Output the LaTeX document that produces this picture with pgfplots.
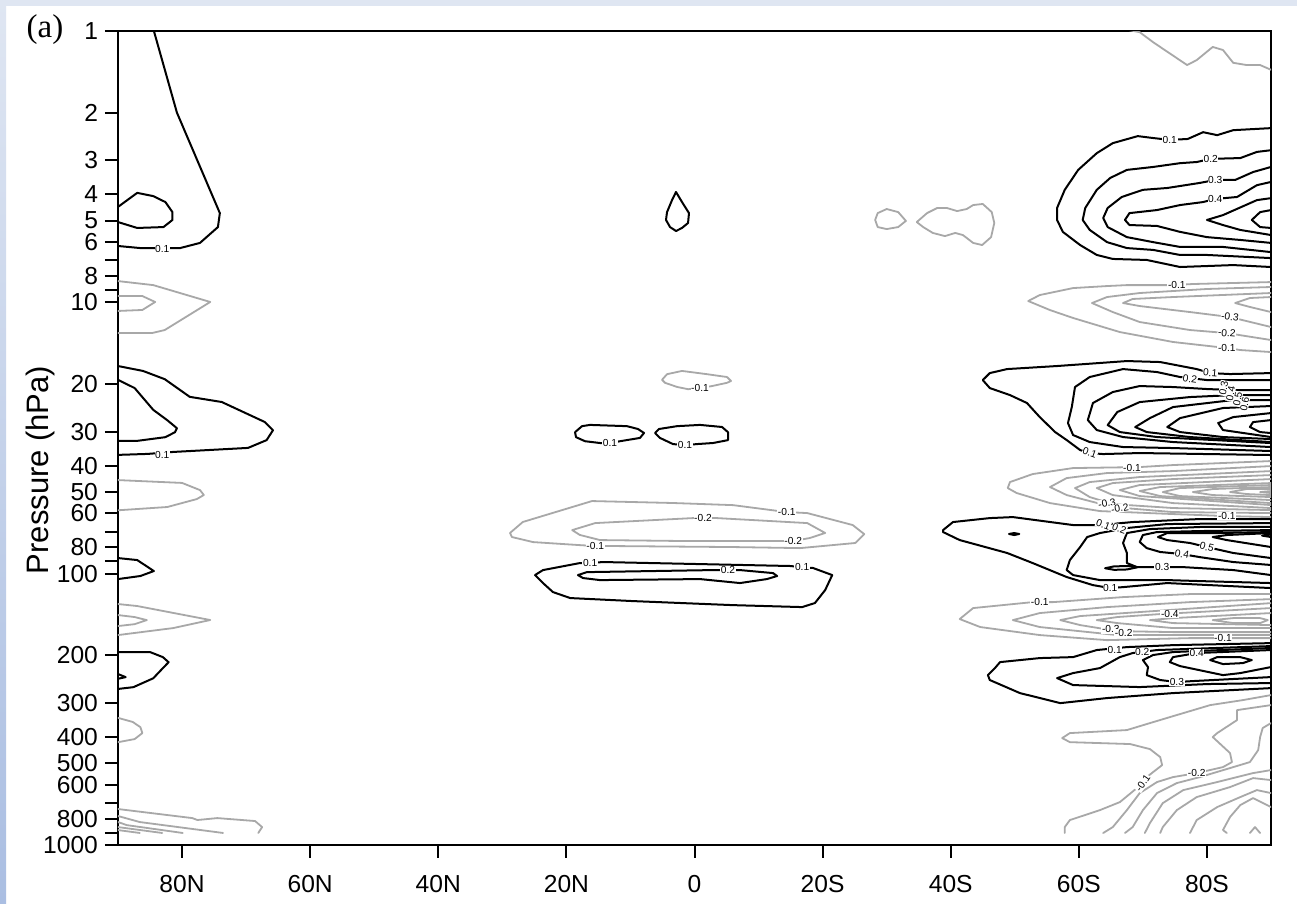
\documentclass[border=0pt]{standalone}
\usepackage{fontspec}
\setmainfont{Liberation Sans}
\newfontfamily\timesf{Liberation Serif}
\usepackage{pgfplots}
\pgfplotsset{compat=1.18}
\definecolor{cgray}{RGB}{168,168,168}
\definecolor{bgtop}{RGB}{223,230,242}
\definecolor{bgbot}{RGB}{170,190,226}
\pgfplotsset{
 blk/.style={black, line width=1pt, line join=round, line cap=round},
 gry/.style={cgray, line width=0.9pt, line join=round, line cap=round},
}
\tikzset{clab/.style={font=\fontsize{5.1}{6}\selectfont, fill=white, inner sep=0.3pt}}
\newcommand{\B}[1]{\addplot[blk] coordinates {#1};}
\newcommand{\G}[1]{\addplot[gry] coordinates {#1};}
\newcommand{\CL}[4][0]{\node[clab, rotate=#1] at (axis cs:#2,#3) {#4};}
\begin{document}
\begin{tikzpicture}[x=1pt,y=1pt]
\useasboundingbox (0,0) rectangle (648.5,452);
\fill[white] (0,0) rectangle (648.5,452);
\fill[bgtop] (0,449) rectangle (648.5,452);
\shade[top color=bgtop, bottom color=bgbot] (0,0) rectangle (3,452);
\node[font=\timesf\fontsize{16.5}{19}\selectfont] at (22.5,437) {(a)};
\begin{axis}[
 at={(59pt,29.5pt)}, anchor=south west,
 scale only axis, width=576.5pt, height=407pt,
 xmin=-90, xmax=90, ymin=1, ymax=1000, ymode=log, y dir=reverse,
 axis line style={line width=1pt},
 tick style={line width=1pt, black},
 major tick length=6.5pt, tick align=outside, tick pos=left,
 xtick={-80,-60,-40,-20,0,20,40,60,80},
 xticklabels={80N,60N,40N,20N,0,20S,40S,60S,80S},
 ytick={1,2,3,4,5,6,7,8,9,10,20,30,40,50,60,70,80,90,100,200,300,400,500,600,700,800,900,1000},
 yticklabels={1,2,3,4,5,6,,8,,10,20,30,40,50,60,,80,,100,200,300,400,500,600,,800,,1000},
 minor tick num=0, yminorticks=false, xminorticks=false,
 ticklabel style={font=\fontsize{12.3}{14}\selectfont},
 xticklabel style={yshift=-5pt},
 ylabel={Pressure (hPa)},
 ylabel style={at={(axis description cs:-0.0668,0.4607)}, anchor=center, font=\fontsize{15.5}{18}\selectfont},
]
% ---------------- left side ----------------
\B{(-84.5,0.98) (-80.8,2.0) (-74.1,4.69) (-74.4,5.28) (-77.2,6.04) (-80.3,6.31) (-86.5,6.31) (-90,6.2)}
\B{(-90,4.45) (-87.0,3.95) (-84.5,4.06) (-82.6,4.27) (-81.5,4.65) (-81.5,4.97) (-82.9,5.28) (-87.0,5.32) (-90,5.06)}
\G{(-90,8.35) (-84.5,8.64) (-75.6,9.97) (-82.7,12.65) (-84.7,12.98) (-90,12.98)}
\G{(-90,9.48) (-86.2,9.48) (-84.2,9.97) (-86.2,10.67) (-90,10.76)}
\B{(-90,17.17) (-86.1,17.9) (-82.7,19.2) (-78.8,22.3) (-73.8,23.3) (-67.1,27.6) (-65.8,29.6) (-66.8,32.2) (-69.7,34.4) (-81.4,35.6) (-85.4,36.2) (-90,36.5)}
\B{(-90,19.3) (-87.4,20.7) (-84.5,24.9) (-82.3,27.2) (-80.8,29.1) (-81.1,30.1) (-82.6,31.4) (-87.0,32.4) (-90,32.4)}
\G{(-90,45.2) (-80.0,46.3) (-77.2,49.2) (-76.6,51.3) (-77.7,53.1) (-82.3,56.8) (-90,58.4)}
\B{(-90,87.6) (-87.0,89.1) (-84.4,97.8) (-86.5,102) (-90,104.7)}
\G{(-90,129.4) (-87.0,131.6) (-75.6,148.2) (-81.4,158.7) (-90,168.4)}
\G{(-90,142.1) (-87.4,144.5) (-85.5,148.3) (-87.4,153.5) (-90,156)}
\B{(-90,194.5) (-85.0,194.5) (-83.0,203) (-82.1,212) (-83.0,223) (-84.5,243) (-87.6,262) (-90,266)}
\B{(-90,234.4) (-88.8,240.6) (-90,244)}
\G{(-90,340) (-87.7,352) (-86.5,368) (-86.2,387) (-87.4,407) (-90,418)}
\G{(-90,737) (-78.4,796) (-77.6,809) (-74.5,796) (-68.6,816) (-67.5,859) (-68.1,903)}
\G{(-90,782) (-86.6,823) (-73.6,903)}
\G{(-90,823) (-88.6,845) (-79.9,903)}
\G{(-90,859) (-83.1,903)}
\G{(-90,881) (-86.6,903)}
% ---------------- middle ----------------
\B{(-2.89,3.92) (-1.95,4.27) (-0.86,4.69) (-1.01,5.10) (-1.95,5.32) (-2.89,5.46) (-3.82,5.28) (-4.45,4.97) (-4.29,4.65) (-3.51,4.20) (-2.89,3.92)}
\G{(28.2,4.97) (28.6,4.69) (30.0,4.53) (31.8,4.65) (33.0,5.01) (31.8,5.28) (30.0,5.37) (28.6,5.28) (28.2,4.97)}
\G{(34.7,5.06) (36.3,4.69) (37.9,4.49) (39.4,4.49) (41.0,4.61) (42.5,4.53) (43.5,4.38) (45.0,4.34) (46.4,4.65) (46.8,5.10) (46.3,5.75) (44.9,6.15) (43.5,6.04) (41.9,5.65) (40.7,5.55) (39.1,5.70) (37.2,5.55) (35.7,5.28) (34.7,5.06)}
\G{(-5.07,19.3) (-4.29,18.4) (-1.95,17.9) (1.95,18.4) (5.07,18.85) (5.70,19.5) (5.07,19.8) (2.73,20.35) (0.86,20.7) (-1.01,20.9) (-2.73,20.5) (-4.6,19.8) (-5.07,19.3)}
\B{(-18.65,30.1) (-17.56,28.6) (-16.31,28.3) (-10.54,28.6) (-8.82,29.3) (-7.88,30.3) (-8.51,31.6) (-11.63,32.5) (-13.19,33.0) (-14.75,33.0) (-17.09,32.5) (-18.5,31.4) (-18.65,30.1)}
\B{(-6.17,30.3) (-5.54,29.3) (-2.73,28.6) (0.86,28.3) (4.29,28.8) (5.23,30.1) (5.23,32.2) (2.89,33.0) (0.39,33.3) (-1.48,33.6) (-3.36,33.3) (-5.39,31.6) (-6.17,30.3)}
\G{(-28.8,70.8) (-26.8,64.5) (-16.0,54.0) (-3.36,54.9) (6.0,55.9) (14.4,59.3) (17.6,59.8) (24.7,66.2) (26.5,71.5) (25.1,77.1) (16.5,80.5) (6.0,79.8) (-13.2,79.1) (-15.5,79.1) (-17.9,78.5) (-25.2,76.5) (-28.5,73.3) (-28.8,70.8)}
\G{(-19.1,69.1) (-15.5,65.1) (-0.23,62.4) (1.33,62.4) (3.51,62.4) (17.6,65.1) (20.4,70.8) (18.0,73.9) (15.4,75.8) (13.3,75.8) (-1.8,75.8) (-14.75,75.2) (-17.9,72.0) (-19.1,69.1)}
\B{(-24.9,101.2) (-23.65,97) (-17.9,91.4) (-16.3,91.4) (-14.3,90.6) (14.9,93.7) (16.8,94.6) (18.5,95.3) (21.5,101.2) (20.4,114.9) (18.8,128.3) (16.8,132.8) (6.0,130.6) (-9.6,126.2) (-19.4,123) (-22.1,116.9) (-23.65,108.3) (-24.9,101.2)}
\B{(-18.2,101.2) (-16.8,98.7) (2.89,97) (5.23,97) (7.1,97) (12.25,99.5) (12.9,102) (11.3,104.7) (7.1,108.3) (0.86,104.7) (-14.75,105.6) (-17.4,103.8) (-18.2,101.2)}
% ---------------- right: top ----------------
\G{(66.7,0.98) (69.5,1.01) (71.6,1.10) (76.9,1.335) (78.4,1.28) (80.9,1.145) (82.5,1.175) (84.1,1.31) (86.2,1.335) (88.3,1.335) (90,1.39)}
\B{(90,2.28) (84.1,2.32) (81.6,2.42) (79.4,2.36) (77.0,2.50) (74.2,2.52) (71.6,2.48) (69.2,2.44) (65.3,2.59) (62.8,2.82) (59.9,3.25) (57.8,3.85) (56.6,4.49) (56.6,4.97) (57.5,5.50) (60.2,6.15) (62.8,6.69) (65.3,6.92) (70.6,6.98) (75.8,7.41) (84.1,7.29) (90,7.41)}
\B{(90,2.75) (87.8,2.79) (85.2,2.94) (80.6,2.96) (78.4,3.04) (75.8,3.07) (71.6,3.17) (67.5,3.25) (64.9,3.48) (62.8,3.85) (61.0,4.49) (60.6,4.97) (61.7,5.41) (64.4,6.0) (67.5,6.31) (71.6,6.41) (75.8,6.69) (80.0,6.69) (90,6.87)}
\B{(90,3.17) (87.2,3.31) (84.4,3.54) (81.3,3.54) (78.9,3.63) (73.8,3.79) (70.0,3.85) (66.7,4.09) (64.5,4.49) (63.8,4.89) (64.5,5.28) (67.5,5.75) (71.6,6.0) (75.8,6.25) (82.5,6.25) (90,6.53)}
\B{(90,3.60) (87.8,3.70) (84.7,4.09) (81.3,4.16) (79.4,4.27) (75.8,4.38) (72.2,4.57) (67.9,4.69) (67.2,4.97) (67.9,5.19) (72.2,5.23) (75.8,5.50) (80.0,5.75) (85.2,5.89) (90,6.04)}
\B{(90,4.13) (87.8,4.20) (82.5,4.77) (80.0,4.97) (82.5,5.19) (85.2,5.41) (90,5.65)}
\B{(90,4.57) (88.3,4.65) (87.0,4.97) (88.3,5.28) (90,5.32)}
% upper negative (10-15 hPa)
\G{(90,8.42) (77.8,8.56) (74.7,8.64) (67.5,8.64) (64.4,8.71) (59.1,8.86) (53.9,9.40) (52.1,9.89) (55.5,10.68) (59.1,11.42) (66.4,12.87) (74.7,14.0) (83.1,14.74) (85.2,14.99) (90,15.25)}
\G{(90,8.78) (80.0,8.93) (69.5,9.24) (64.4,9.56) (62.05,10.06) (65.3,10.86) (69.5,11.82) (77.35,12.65) (83.1,12.98) (90,13.77)}
\G{(90,9.24) (74.7,9.56) (68.4,9.72) (66.9,10.06) (69.5,10.32) (77.35,10.86) (83.6,11.33) (90,12.33)}
\G{(90,9.56) (86.7,9.64) (84.4,10.06) (86.7,10.40) (90,10.86)}
% positive 20-40 hPa
\B{(90,18.23) (83.6,18.38) (80.5,18.23) (78.4,17.62) (72.7,16.6) (67.5,16.46) (56.6,17.17) (48.8,17.62) (46.1,18.23) (45.0,19.34) (46.1,20.70) (49.25,21.97) (51.9,23.5) (53.9,26.48) (56.3,30.07) (58.1,32.18) (60.2,35.03) (61.7,35.93) (63.8,36.24) (69.5,35.93) (90,36.54)}
\B{(90,19.34) (80.0,19.34) (75.8,18.85) (72.2,18.07) (66.9,17.62) (61.7,18.85) (59.4,20.52) (58.9,24.32) (58.3,27.86) (59.1,30.84) (61.7,32.73) (66.9,34.15) (74.7,34.44) (90,35.32)}
\B{(90,21.05) (84.1,21.05) (80.0,20.87) (74.7,20.52) (69.5,20.35) (65.3,21.41) (62.2,23.5) (61.4,27.16) (62.8,29.56) (66.9,31.37) (74.7,32.73) (90,34.15)}
\B{(90,21.97) (84.1,21.97) (77.35,22.34) (69.5,23.31) (66.0,25.37) (64.5,28.34) (66.4,30.07) (72.2,31.37) (90,33.01)}
\B{(90,22.91) (84.1,22.91) (74.7,24.32) (71.1,26.71) (68.8,28.82) (70.6,30.07) (77.35,31.37) (90,32.73)}
\B{(90,24.11) (82.5,24.52) (75.8,26.71) (73.8,28.82) (75.8,30.07) (82.5,31.37) (90,31.91)}
\B{(90,25.59) (84.1,26.48) (81.75,27.86) (82.5,29.56) (90,31.37)}
\B{(90,27.16) (87.2,27.63) (86.7,28.82) (88.3,30.07) (90,30.33)}
% negative 40-65 hPa
\G{(90,38.46) (74.7,39.79) (69.5,40.47) (59.1,40.81) (52.8,42.94) (49.25,45.96) (48.9,48.36) (50.3,50.45) (55.5,54.94) (63.3,58.8) (74.7,60.3) (83.1,61.35) (90,61.87)}
\G{(90,40.13) (74.7,41.87) (64.4,42.58) (58.1,44.43) (55.5,47.95) (58.1,51.32) (65.3,56.83) (74.7,59.3) (90,59.8)}
\G{(90,41.87) (69.5,44.05) (61.7,45.96) (59.4,48.36) (61.7,52.2) (65.3,55.41) (74.7,57.3) (90,58.3)}
\G{(90,43.31) (74.7,44.8) (65.3,46.35) (62.8,48.36) (65.3,51.32) (74.7,54.94) (90,57.3)}
\G{(90,44.8) (69.5,47.14) (66.4,49.18) (69.5,51.76) (90,55.88)}
\G{(90,46.35) (72.7,47.95) (69.5,49.6) (72.7,51.76) (90,54.94)}
\G{(90,47.14) (75.8,48.36) (73.1,50.03) (75.8,51.76) (90,53.55)}
\G{(90,47.95) (80.9,48.77) (77.8,50.03) (80.9,51.32) (90,52.2)}
\G{(90,48.77) (86.2,48.77) (83.6,50.03) (86.2,50.88) (90,51.32)}
\G{(90,49.6) (88.3,50.03) (90,50.45)}
% positive 65-115 hPa
\B{(90,62.9) (78.9,62.9) (68.4,64.53) (63.3,66.2) (59.1,66.2) (49.7,61.87) (46.1,62.4) (40.35,64.53) (38.8,69.1) (38.8,70.25) (41.4,75.2) (48.8,83.9) (52.8,91.4) (58.1,102.9) (62.2,110.2) (64.9,113.0) (66.9,112.1) (73.8,108.3) (90,113.0)}
\B{(49.1,71.4) (49.9,70.85) (50.7,71.4) (49.9,72.05) (49.1,71.4)}
\B{(90,65.1) (73.8,65.64) (67.5,67.9) (63.3,70.85) (61.3,73.3) (60.2,79.8) (58.6,89.1) (58.1,96.98) (59.1,101.2) (63.3,105.6) (73.8,105.6) (78.9,106.5) (90,108.3)}
\B{(90,67.3) (78.9,67.3) (71.1,68.5) (67.5,70.85) (66.9,77.1) (67.5,83.9) (67.5,91.4) (69.1,94.6) (73.0,94.6) (76.3,94.6) (84.1,96.98) (90,101.2)}
\B{(64.1,95.5) (65.5,94.0) (68,93.7) (69.1,94.8) (67.5,96.5) (65.5,96.8) (64.1,95.5)}
\B{(90,69.1) (78.9,69.66) (72.2,70.25) (70.0,72.05) (69.5,76.45) (70.6,80.5) (72.7,83.2) (76.1,84.7) (78.9,86.9) (84.1,90.6) (90,92.9)}
\B{(90,70.25) (81.6,70.85) (73.8,70.85) (72.35,73.3) (73.8,75.2) (77.35,77.1) (80.0,79.8) (84.1,83.9) (90,87.6)}
\B{(90,70.85) (83.1,72.05) (80.9,73.3) (83.1,75.2) (90,79.8)}
\B{(90,71.45) (88.6,72.4) (90,73.3)}
% negative 120-175 hPa
\G{(90,118.9) (77.35,118.9) (66.9,122.0) (56.0,127.3) (52.8,127.3) (43.5,133.9) (41.4,147.0) (44.6,157.3) (53.9,168.4) (64.4,175.8) (77.35,172.8) (90,172.8)}
\G{(90,124.1) (77.35,127.3) (64.4,132.8) (53.9,139.7) (49.7,148.3) (53.9,157.3) (66.0,168.4) (74.7,168.4) (90,168.4)}
\G{(90,128.4) (69.5,138.5) (60.2,143.3) (57.1,148.3) (60.2,154.7) (66.0,162.8) (74.7,164.2) (90,164.2)}
\G{(90,133.9) (72.7,140.9) (66.0,144.5) (62.8,148.3) (66.0,152.1) (74.7,158.7) (90,158.7)}
\G{(90,139.7) (74.7,145.8) (71.1,148.3) (74.7,152.1) (90,154.7)}
\G{(80.9,148.3) (84.1,145.8) (88.3,145.8) (89.5,148.3) (88.3,152.1) (84.1,152.1) (80.9,148.3)}
% positive 180-300 hPa
\B{(90,180.3) (74.7,183.4) (67.5,186.5) (62.8,191.2) (59.1,203) (53.9,204.7) (47.7,211.8) (46.9,222.8) (45.8,236.5) (46.1,246.6) (50.8,275.5) (57.1,300) (64.4,287.4) (74.7,275.5) (90,264.1)}
\B{(90,184.9) (72.2,191.2) (68.4,196.2) (66.4,203) (63.3,222.8) (59.1,232.5) (56.6,242.6) (59.1,257.4) (69.5,261.8) (80.0,255.2) (90,253)}
\B{(90,187.9) (74.7,194.5) (71.6,199.5) (70.0,208.2) (70.8,220.9) (70.6,236.5) (72.7,246.6) (75.3,250.9) (77.8,248.8) (90,240.5)}
\B{(90,191.2) (78.4,196.2) (74.7,203) (74.2,211.8) (75.8,219.1) (82.5,236.5) (85.2,232.5) (90,220.9)}
\B{(80.5,208.2) (81.6,203) (85.2,203) (87.0,208.2) (85.6,213.6) (82.5,215.4) (80.5,208.2)}
% lower right negative
\G{(90,280.2) (85.6,292.4) (80.5,305.1) (75.3,331.9) (71.1,355.4) (67.5,377.1) (58.6,386.9) (57.4,403.6) (58.6,417.8) (68.0,424.6) (71.1,443.1) (72.7,474.2) (73.0,507.6) (71.6,538.5) (70.6,562) (70.0,591.2) (68.3,638.3) (66.4,695) (63.3,743.6) (58.6,809.3) (57.8,859) (57.8,903.3)}
\G{(90,305.1) (84.7,318.3) (84.7,346.4) (81.6,386.9) (80.9,400) (83.6,458.3) (83.9,494.8) (82.5,516.3) (78.4,543.2) (74.7,562) (72.2,586.2) (69.5,643.8) (67.5,743.6) (65.3,859) (63.8,903.3)}
\G{(90,355.4) (88.7,370.7) (88.3,400) (88.0,446.8) (86.7,494.8) (83.6,520.6) (78.9,562) (75.3,591.2) (72.2,643.8) (70.0,743.6) (68.4,859) (67.2,903.3)}
\G{(90,529.5) (87.2,543.2) (81.6,586.2) (76.3,627.5) (73.1,701) (71.1,830) (70.3,903.3)}
\G{(90,576.4) (87.2,566.8) (83.6,611.7) (78.4,665.9) (75.3,743.6) (73.1,859) (72.7,903.3)}
\G{(90,643.8) (87.8,627.5) (85.2,665.9) (81.6,724.9) (78.4,809.3) (77.35,903.3)}
\G{(90,724.9) (87.2,671.5) (85.2,712.9) (83.6,788.9) (82.5,880.6) (83.1,903.3)}
\G{(86.7,903.3) (87.5,859) (88.3,903.3)}
% ---------------- labels ----------------
\CL{-83.1}{6.35}{0.1}
\CL{-83.1}{36.5}{0.1}
\CL{0.86}{20.7}{-0.1}
\CL{-13.19}{33.0}{0.1}
\CL{-1.48}{33.6}{0.1}
\CL{14.4}{59.3}{-0.1}
\CL{1.33}{62.4}{-0.2}
\CL{15.4}{75.8}{-0.2}
\CL{-15.5}{79.1}{-0.1}
\CL{-16.3}{91.4}{0.1}
\CL{5.23}{97}{0.2}
\CL{16.8}{94.6}{0.1}
\CL{74.2}{2.52}{0.1}
\CL{80.6}{2.96}{0.2}
\CL{81.3}{3.54}{0.3}
\CL{81.3}{4.16}{0.4}
\CL{75.3}{8.64}{-0.1}
\CL[-8]{83.6}{11.33}{-0.3}
\CL[-5]{83.1}{12.98}{-0.2}
\CL{83.1}{14.74}{-0.1}
\CL[-5]{80.5}{18.23}{0.1}
\CL[-8]{77.35}{19.17}{0.2}
\CL[-20]{61.7}{35.93}{0.1}
\CL[80]{82.6}{20.7}{0.3}
\CL[80]{83.7}{21.7}{0.4}
\CL[80]{84.8}{22.7}{0.5}
\CL[80]{85.9}{23.7}{0.6}
\CL{68.3}{40.81}{-0.1}
\CL[10]{64.4}{55.0}{-0.3}
\CL[10]{66.4}{57.4}{-0.2}
\CL{83.1}{61.35}{-0.1}
\CL[-20]{63.8}{65.8}{0.1}
\CL[-20]{66.3}{68.2}{0.2}
\CL{73.0}{94.6}{0.3}
\CL[-10]{76.1}{84.7}{0.4}
\CL[-15]{80.0}{79.8}{0.5}
\CL{64.9}{113.0}{0.1}
\CL{53.9}{127.3}{-0.1}
\CL{74.2}{140.9}{-0.4}
\CL{65.0}{160.5}{-0.3}
\CL{67.0}{166.0}{-0.2}
\CL{82.5}{172.8}{-0.1}
\CL{65.6}{191.2}{0.1}
\CL{69.9}{194.5}{0.2}
\CL{78.4}{196.2}{0.4}
\CL{75.3}{250.9}{0.3}
\CL[55]{70.0}{591.2}{-0.1}
\CL{78.4}{543.2}{-0.2}
\end{axis}
\end{tikzpicture}
\end{document}
